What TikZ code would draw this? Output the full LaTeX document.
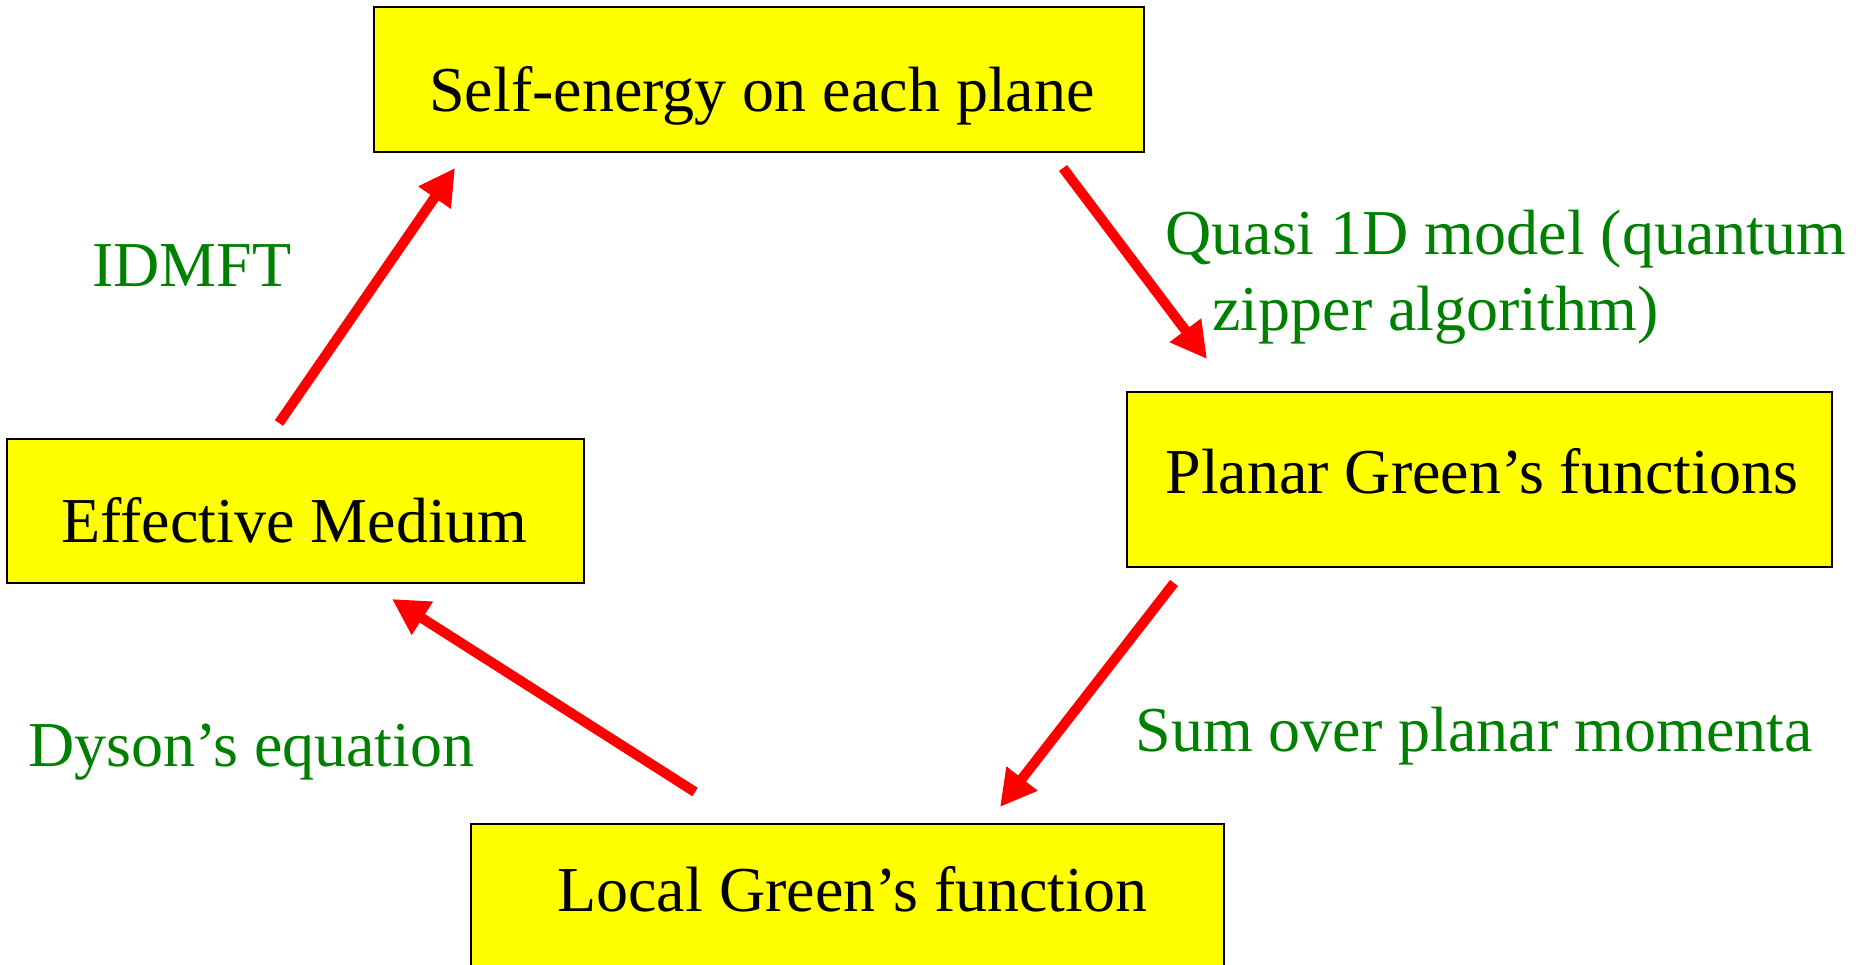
\documentclass[tikz,border=0pt]{standalone}
\usepackage{fontspec}
\setmainfont{Liberation Serif}
\usetikzlibrary{arrows.meta}
\definecolor{boxyellow}{RGB}{255,255,0}
\definecolor{lblgreen}{RGB}{0,128,0}
\definecolor{arrred}{RGB}{255,0,0}
\begin{document}
\begin{tikzpicture}[x=0.5pt,y=-0.5pt,
  box/.style={draw=black, line width=1pt, fill=boxyellow, inner sep=0pt},
  boxtext/.style={anchor=base west, inner sep=0pt, font=\fontsize{32}{38}\selectfont, text=black},
  lbl/.style={anchor=base west, inner sep=0pt, font=\fontsize{32}{38}\selectfont, text=lblgreen},
  flow/.style={draw=arrred, line width=5pt, -{Triangle[length=18pt,width=18.5pt]}}]
\path[use as bounding box] (0,0) rectangle (1856,964);
% boxes
\node[box, minimum width=385pt, minimum height=72.5pt] (self) at (759,79.5) {};
\node[box, minimum width=352.5pt, minimum height=87.5pt] (planar) at (1479.5,479.5) {};
\node[box, minimum width=288.5pt, minimum height=72pt] (eff) at (295.5,511) {};
\node[box, minimum width=376.5pt, minimum height=100pt, anchor=north] (local) at (847.5,823) {};
% box texts
\node[boxtext] (selft) at (429,111) {Self-energy on each plane};
\node[boxtext] (planart) at (1165,493) {Planar Green’s functions};
\node[boxtext] (efft) at (61,542) {Effective Medium};
\node[boxtext] (localt) at (557,911) {Local Green’s function};
% labels
\node[lbl] (idmft) at (92,286) {IDMFT};
\node[lbl] (quasia) at (1165,254) {Quasi 1D model (quantum};
\node[lbl] (quasib) at (1212,330) {zipper algorithm)};
\node[lbl] (dyson) at (28,766) {Dyson’s equation};
\node[lbl] (sumov) at (1135,751) {Sum over planar momenta};
% arrow end points
\coordinate (a1s) at (279,423);
\coordinate (a1e) at (455,168);
\coordinate (a2s) at (1063,168);
\coordinate (a2e) at (1207,359);
\coordinate (a3s) at (1174,583);
\coordinate (a3e) at (1000,807);
\coordinate (a4s) at (695,792);
\coordinate (a4e) at (392,599);
\draw[flow] (a1s) -- (a1e);
\draw[flow] (a2s) -- (a2e);
\draw[flow] (a3s) -- (a3e);
\draw[flow] (a4s) -- (a4e);
\end{tikzpicture}
\end{document}
